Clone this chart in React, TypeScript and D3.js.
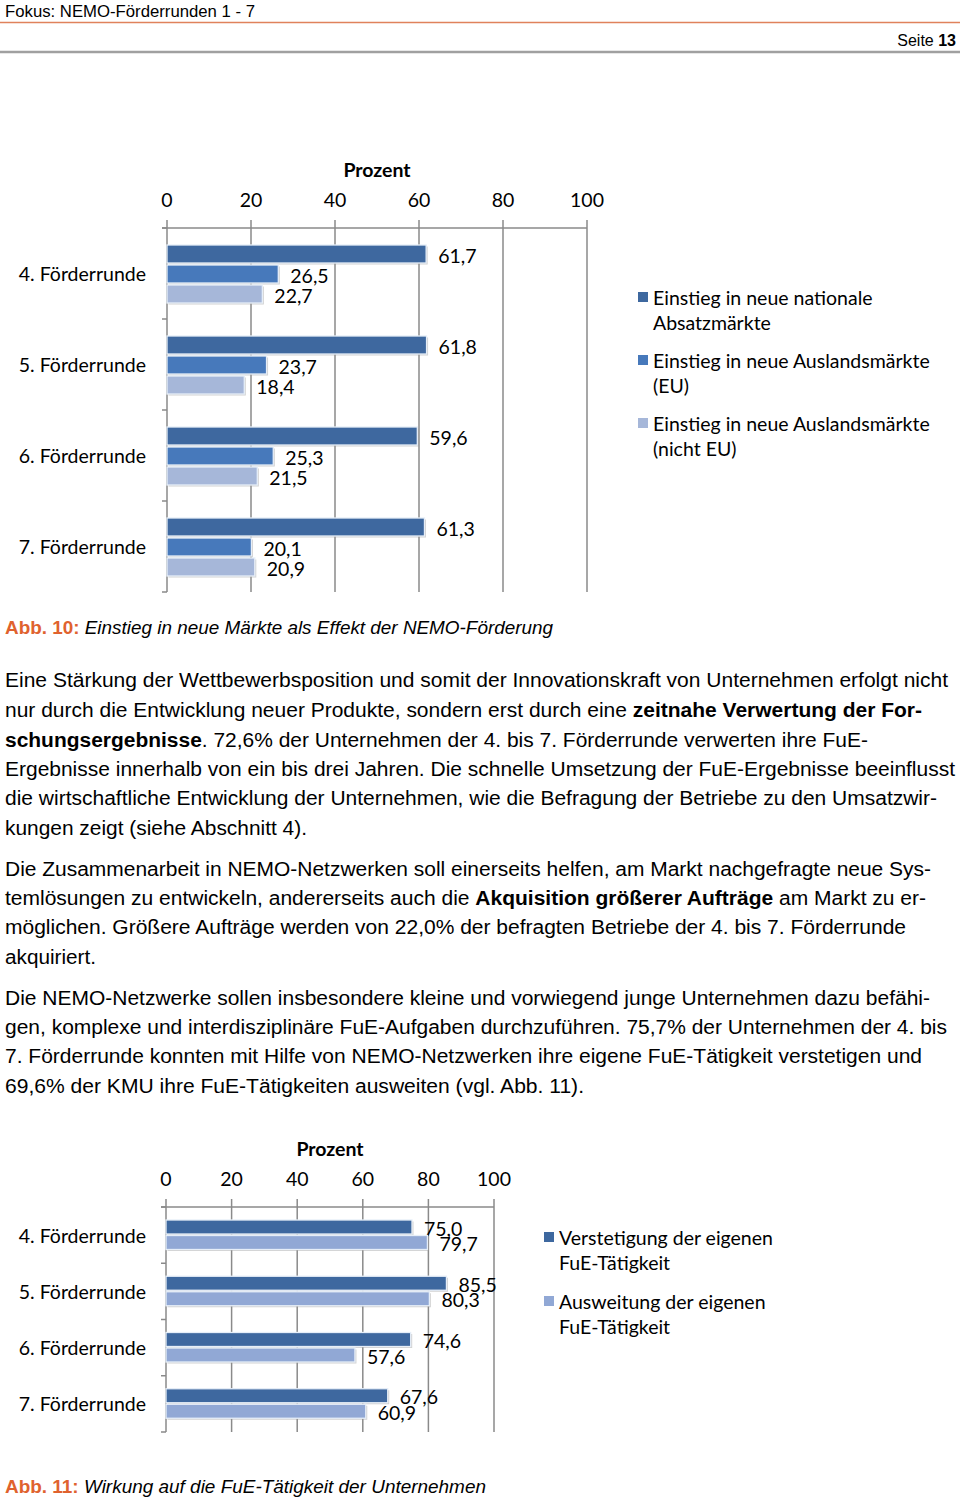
import React from "react";
import * as d3 from "d3";

const rounds = ["4. Förderrunde", "5. Förderrunde", "6. Förderrunde", "7. Förderrunde"];
const tickValues = [0, 20, 40, 60, 80, 100];

// Chart 1 (Abb. 10)
const series1Keys = ["national", "eu", "nonEu"];
const series1Names = [
  ["Einstieg in neue nationale", "Absatzmärkte"],
  ["Einstieg in neue Auslandsmärkte", "(EU)"],
  ["Einstieg in neue Auslandsmärkte", "(nicht EU)"],
];
const national = [61.7, 61.8, 59.6, 61.3];
const euMarkets = [26.5, 23.7, 25.3, 20.1];
const nonEuMarkets = [22.7, 18.4, 21.5, 20.9];
const colors1 = ["#3e689f", "#4779bb", "#a6b7d9"];

// Chart 2 (Abb. 11)
const series2Keys = ["verstetigung", "ausweitung"];
const series2Names = [
  ["Verstetigung der eigenen", "FuE-Tätigkeit"],
  ["Ausweitung der eigenen", "FuE-Tätigkeit"],
];
const verstetigung = [75.0, 85.5, 74.6, 67.6];
const ausweitung = [79.7, 80.3, 57.6, 60.9];
const colors2 = ["#3e689f", "#91a8d5"];

const fmt = (v: number) => v.toFixed(1).replace(".", ",");

const CH = "Lato, 'Open Sans', sans-serif";
const BODY = "'Liberation Sans', Arial, sans-serif";
const FS = 19.5;

type Seg = { t: string; b?: boolean };
const paragraphLines: { y: number; x2: number; segs: Seg[] }[] = [
  { y: 687, x2: 948, segs: [{ t: "Eine Stärkung der Wettbewerbsposition und somit der Innovationskraft von Unternehmen erfolgt nicht" }] },
  { y: 717, x2: 922, segs: [{ t: "nur durch die Entwicklung neuer Produkte, sondern erst durch eine " }, { t: "zeitnahe Verwertung der For-", b: true }] },
  { y: 747, x2: 868, segs: [{ t: "schungsergebnisse", b: true }, { t: ". 72,6% der Unternehmen der 4. bis 7. Förderrunde verwerten ihre FuE-" }] },
  { y: 776, x2: 955, segs: [{ t: "Ergebnisse innerhalb von ein bis drei Jahren. Die schnelle Umsetzung der FuE-Ergebnisse beeinflusst" }] },
  { y: 805, x2: 937, segs: [{ t: "die wirtschaftliche Entwicklung der Unternehmen, wie die Befragung der Betriebe zu den Umsatzwir-" }] },
  { y: 835, x2: 307, segs: [{ t: "kungen zeigt (siehe Abschnitt 4)." }] },
  { y: 876, x2: 931, segs: [{ t: "Die Zusammenarbeit in NEMO-Netzwerken soll einerseits helfen, am Markt nachgefragte neue Sys-" }] },
  { y: 905, x2: 926, segs: [{ t: "temlösungen zu entwickeln, andererseits auch die " }, { t: "Akquisition größerer Aufträge", b: true }, { t: " am Markt zu er-" }] },
  { y: 934, x2: 906, segs: [{ t: "möglichen. Größere Aufträge werden von 22,0% der befragten Betriebe der 4. bis 7. Förderrunde" }] },
  { y: 964, x2: 96, segs: [{ t: "akquiriert." }] },
  { y: 1005, x2: 930, segs: [{ t: "Die NEMO-Netzwerke sollen insbesondere kleine und vorwiegend junge Unternehmen dazu befähi-" }] },
  { y: 1034, x2: 947, segs: [{ t: "gen, komplexe und interdisziplinäre FuE-Aufgaben durchzuführen. 75,7% der Unternehmen der 4. bis" }] },
  { y: 1063, x2: 922, segs: [{ t: "7. Förderrunde konnten mit Hilfe von NEMO-Netzwerken ihre eigene FuE-Tätigkeit verstetigen und" }] },
  { y: 1093, x2: 584, segs: [{ t: "69,6% der KMU ihre FuE-Tätigkeiten ausweiten (vgl. Abb. 11)." }] },
];

function BarChart(props: {
  values: number[][];
  colors: string[];
  keys: string[];
  names: string[][];
  x0: number; x1: number; y0: number; y1: number;
  innerStart: number; innerEnd: number; barH: number;
  titleY: number; tickY: number;
  legendX: number; legendY: number; legendLine: number; legendGap: number;
}) {
  const p = props;
  const x = d3.scaleLinear().domain([0, 100]).range([p.x0, p.x1]);
  const y = d3.scaleBand<string>().domain(rounds).range([p.y0, p.y1]).padding(0);
  const inner = d3.scaleBand<string>().domain(p.keys).range([p.innerStart, p.innerEnd]).padding(0);
  const grid = "#8a8a8a";
  return (
    <g>
      <text x={(p.x0 + p.x1) / 2} y={p.titleY} textAnchor="middle" fontFamily={CH} fontWeight="bold" fontSize={FS} fill="#000">Prozent</text>
      {tickValues.map((t) => (
        <text key={"t" + t} x={x(t)} y={p.tickY} textAnchor="middle" fontFamily={CH} fontSize={FS} fill="#000">{t}</text>
      ))}
      {tickValues.map((t) => (
        <line key={"g" + t} x1={x(t)} x2={x(t)} y1={p.y0 - 8} y2={p.y1} stroke={grid} strokeWidth={1.5} />
      ))}
      <line x1={p.x0 - 5} x2={p.x1} y1={p.y0} y2={p.y0} stroke={grid} strokeWidth={1.5} />
      {[...rounds.map((r) => y(r)!), p.y1].map((v, i) => (
        <line key={"ct" + i} x1={p.x0 - 5} x2={p.x0} y1={v} y2={v} stroke={grid} strokeWidth={1.5} />
      ))}
      {rounds.map((r, ri) => (
        <g key={r}>
          <text x={146} y={y(r)! + y.bandwidth() / 2} dominantBaseline="central" textAnchor="end" fontFamily={CH} fontSize={FS} fill="#000">{r}</text>
          {p.keys.map((k, si) => {
            const v = p.values[si][ri];
            const by = y(r)! + inner(k)!;
            const w = x(v) - x(0);
            return (
              <g key={k}>
                <rect x={x(0) + 1.5} y={by + 1.5} width={w} height={p.barH} fill="#9a9a9a" opacity={0.45} />
                <rect x={x(0)} y={by} width={w} height={p.barH} fill={p.colors[si]} stroke="#e6eef8" strokeWidth={1.3} />
                <text x={x(v) + 12} y={by + p.barH / 2 + 1} dominantBaseline="central" fontFamily={CH} fontSize={FS} fill="#000">{fmt(v)}</text>
              </g>
            );
          })}
        </g>
      ))}
      {p.names.map((lines, i) => {
        const ly = p.legendY + i * p.legendGap;
        return (
          <g key={"l" + i}>
            <rect x={p.legendX} y={ly - 5} width={10} height={10} fill={p.colors[i]} />
            {lines.map((ln, j) => (
              <text key={j} x={p.legendX + 15} y={ly + j * p.legendLine} dominantBaseline="central" fontFamily={CH} fontSize={FS} fill="#000">{ln}</text>
            ))}
          </g>
        );
      })}
    </g>
  );
}

export default function App() {
  return (
    <svg width={960} height={1499} style={{ position: "absolute", left: 0, top: 0, background: "#fff" }}>
      <rect width={960} height={1499} fill="#fff" />
      <text x={5} y={17} fontFamily={BODY} fontSize={16} fill="#000" textLength={250} lengthAdjust="spacingAndGlyphs">Fokus: NEMO-Förderrunden 1 - 7</text>
      <line x1={0} x2={960} y1={22.5} y2={22.5} stroke="#e0825c" strokeWidth={1.5} />
      <text x={956} y={46} textAnchor="end" fontFamily={BODY} fontSize={16} fill="#000">Seite <tspan fontWeight="bold">13</tspan></text>
      <line x1={0} x2={960} y1={52} y2={52} stroke="#a0a0a0" strokeWidth={2.5} />

      <BarChart
        values={[national, euMarkets, nonEuMarkets]}
        colors={colors1}
        keys={series1Keys}
        names={series1Names}
        x0={167} x1={587} y0={228} y1={592}
        innerStart={17} innerEnd={77} barH={18}
        titleY={177} tickY={207}
        legendX={638} legendY={297} legendLine={25} legendGap={63}
      />

      <text x={5} y={634} fontFamily={BODY} fontSize={18} textLength={548} lengthAdjust="spacingAndGlyphs">
        <tspan fill="#e0622e" fontWeight="bold">Abb. 10: </tspan>
        <tspan fontStyle="italic" fill="#000">Einstieg in neue Märkte als Effekt der NEMO-Förderung</tspan>
      </text>

      {paragraphLines.map((ln, i) => (
        <text key={i} x={5} y={ln.y} fontFamily={BODY} fontSize={19.5} fill="#000" textLength={ln.x2 - 5} lengthAdjust="spacingAndGlyphs">
          {ln.segs.map((s, j) => (
            <tspan key={j} fontWeight={s.b ? "bold" : "normal"}>{s.t}</tspan>
          ))}
        </text>
      ))}

      <BarChart
        values={[verstetigung, ausweitung]}
        colors={colors2}
        keys={series2Keys}
        names={series2Names}
        x0={166} x1={494} y0={1207} y1={1432}
        innerStart={13} innerEnd={44} barH={14}
        titleY={1156} tickY={1186}
        legendX={544} legendY={1237} legendLine={25} legendGap={64}
      />

      <text x={5} y={1493} fontFamily={BODY} fontSize={18} textLength={481} lengthAdjust="spacingAndGlyphs">
        <tspan fill="#e0622e" fontWeight="bold">Abb. 11: </tspan>
        <tspan fontStyle="italic" fill="#000">Wirkung auf die FuE-Tätigkeit der Unternehmen</tspan>
      </text>
    </svg>
  );
}
